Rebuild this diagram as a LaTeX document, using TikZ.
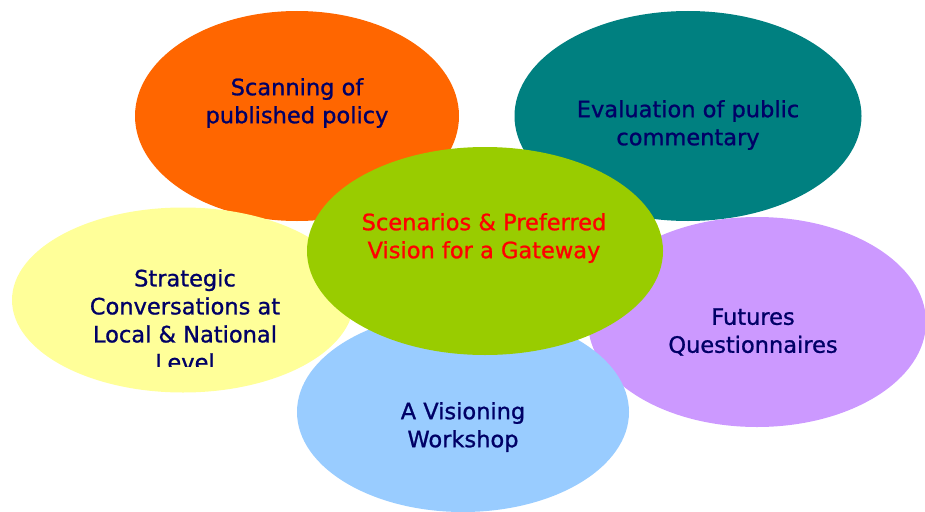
\documentclass[tikz,border=0pt]{standalone}
\usepackage{fontspec}
\setmainfont{DejaVu Sans}[FakeBold=1]
\usetikzlibrary{shapes.geometric}
\definecolor{cOrange}{HTML}{FF6600}
\definecolor{cTeal}{HTML}{008080}
\definecolor{cYellow}{HTML}{FFFF99}
\definecolor{cGreen}{HTML}{99CC00}
\definecolor{cPurple}{HTML}{CC99FF}
\definecolor{cBlue}{HTML}{99CCFF}
\definecolor{cNavy}{HTML}{000066}
\definecolor{cRed}{HTML}{FF0000}
\begin{document}
\begin{tikzpicture}[x=1pt,y=-1pt,
  blob/.style={ellipse,inner sep=0pt,draw=none},
  lbl/.style={align=center,inner sep=0pt,text=cNavy,font=\fontsize{22.5}{28}\selectfont}]
\useasboundingbox (0,0) rectangle (925,511);
\clip (0,0) rectangle (925,511);
% orange
\node[blob,fill=cOrange,minimum width=324pt,minimum height=210pt] (orange) at (297,116) {};
\node[lbl] (torange) at (297,103) {Scanning of\\published policy};
% teal
\node[blob,fill=cTeal,minimum width=347pt,minimum height=210pt] (teal) at (688,116) {};
\node[lbl] (tteal) at (688,125) {Evaluation of public\\commentary};
% yellow
\node[blob,fill=cYellow,minimum width=342pt,minimum height=185pt] (yellow) at (183,300) {};
\begin{scope}
\clip (0,0) rectangle (925,366);
\node[lbl] (tyellow) at (185,320) {Strategic\\Conversations at\\Local \& National\\Level};
\end{scope}
% purple
\node[blob,fill=cPurple,minimum width=338pt,minimum height=210pt] (purple) at (757,322) {};
\node[lbl] (tpurple) at (753,332) {Futures\\Questionnaires};
% blue
\node[blob,fill=cBlue,minimum width=332pt,minimum height=200pt] (blue) at (463,412) {};
\node[lbl] (tblue) at (463,427) {A Visioning\\Workshop};
% green
\node[blob,fill=cGreen,minimum width=356pt,minimum height=208pt] (green) at (485,251) {};
\node[lbl,text=cRed] (tgreen) at (484,238) {Scenarios \& Preferred\\Vision for a Gateway};
\end{tikzpicture}
\end{document}
